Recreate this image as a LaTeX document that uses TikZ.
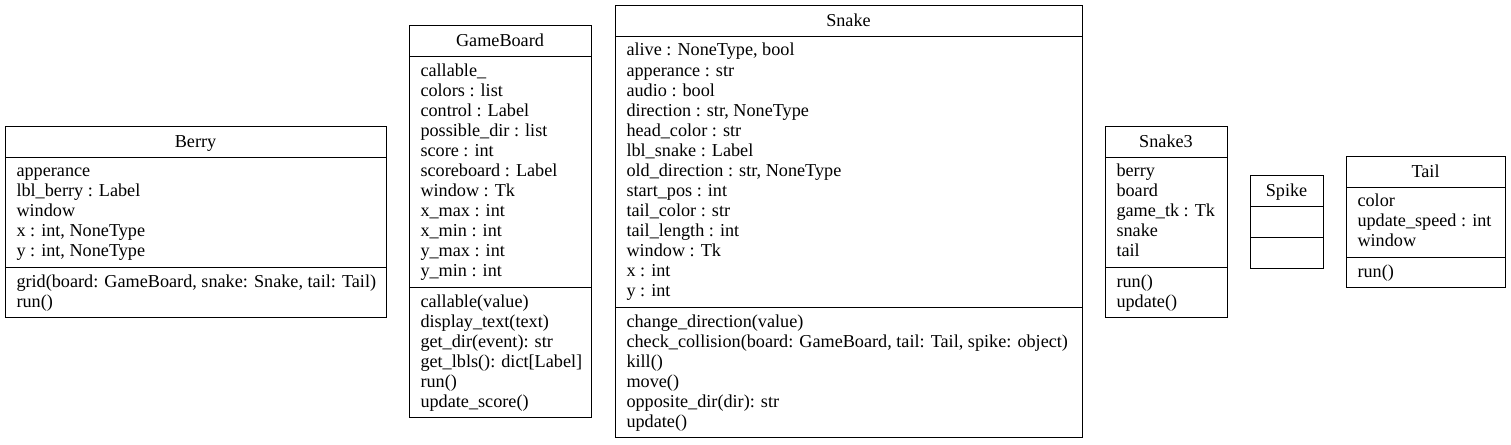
\documentclass[tikz,border=0pt]{standalone}
\usepackage{fontspec}
\setmainfont{Liberation Serif}
\newcommand{\umlfont}{\fontsize{18.2}{20}\selectfont}

\begin{document}
\begin{tikzpicture}[x=1pt,y=-1pt,line width=1pt,
		classname/.style={anchor=base,inner sep=0pt,font=\umlfont},
		member/.style={anchor=base west,inner sep=0pt,font=\umlfont}]
			\useasboundingbox (0,0) rectangle (1511,444);

			% Berry
			\draw (5,126) rectangle (386,317);
			\draw (5,157) -- (386,157);
			\draw (5,267) -- (386,267);
			\node[classname] (berry) at (195.5,147) {Berry};
			\node[member] (berry-a1) at (16,176) {apperance};
			\node[member] (berry-a2) at (16,196) {lbl\_berry : Label};
			\node[member] (berry-a3) at (16,216) {window};
			\node[member] (berry-a4) at (16,236) {x : int, NoneType};
			\node[member] (berry-a5) at (16,256) {y : int, NoneType};
			\node[member] (berry-m1) at (16,287) {grid(board: GameBoard, snake: Snake, tail: Tail)};
			\node[member] (berry-m2) at (16,307) {run()};

			% GameBoard
			\draw (409,26) rectangle (591,417);
			\draw (409,57) -- (591,57);
			\draw (409,287) -- (591,287);
			\node[classname] (board) at (500,47) {GameBoard};
			\node[member] (board-a1) at (420,76) {callable\_};
			\node[member] (board-a2) at (420,96) {colors : list};
			\node[member] (board-a3) at (420,116) {control : Label};
			\node[member] (board-a4) at (420,136) {possible\_dir : list};
			\node[member] (board-a5) at (420,156) {score : int};
			\node[member] (board-a6) at (420,176) {scoreboard : Label};
			\node[member] (board-a7) at (420,196) {window : Tk};
			\node[member] (board-a8) at (420,216) {x\_max : int};
			\node[member] (board-a9) at (420,236) {x\_min : int};
			\node[member] (board-a10) at (420,256) {y\_max : int};
			\node[member] (board-a11) at (420,276) {y\_min : int};
			\node[member] (board-m1) at (420,307) {callable(value)};
			\node[member] (board-m2) at (420,327) {display\_text(text)};
			\node[member] (board-m3) at (420,347) {get\_dir(event): str};
			\node[member] (board-m4) at (420,367) {get\_lbls(): dict[Label]};
			\node[member] (board-m5) at (420,387) {run()};
			\node[member] (board-m6) at (420,407) {update\_score()};

			% Snake
			\draw (615,6) rectangle (1082,437);
			\draw (615,37) -- (1082,37);
			\draw (615,307) -- (1082,307);
			\node[classname] (snake) at (848.5,27) {Snake};
			\node[member] (snake-a1) at (626,56) {alive : NoneType, bool};
			\node[member] (snake-a2) at (626,76) {apperance : str};
			\node[member] (snake-a3) at (626,96) {audio : bool};
			\node[member] (snake-a4) at (626,116) {direction : str, NoneType};
			\node[member] (snake-a5) at (626,136) {head\_color : str};
			\node[member] (snake-a6) at (626,156) {lbl\_snake : Label};
			\node[member] (snake-a7) at (626,176) {old\_direction : str, NoneType};
			\node[member] (snake-a8) at (626,196) {start\_pos : int};
			\node[member] (snake-a9) at (626,216) {tail\_color : str};
			\node[member] (snake-a10) at (626,236) {tail\_length : int};
			\node[member] (snake-a11) at (626,256) {window : Tk};
			\node[member] (snake-a12) at (626,276) {x : int};
			\node[member] (snake-a13) at (626,296) {y : int};
			\node[member] (snake-m1) at (626,327) {change\_direction(value)};
			\node[member] (snake-m2) at (626,347) {check\_collision(board: GameBoard, tail: Tail, spike: object)};
			\node[member] (snake-m3) at (626,367) {kill()};
			\node[member] (snake-m4) at (626,387) {move()};
			\node[member] (snake-m5) at (626,407) {opposite\_dir(dir): str};
			\node[member] (snake-m6) at (626,427) {update()};

			% Snake3
			\draw (1105,126) rectangle (1227,317);
			\draw (1105,157) -- (1227,157);
			\draw (1105,267) -- (1227,267);
			\node[classname] (snakethree) at (1166,147) {Snake3};
			\node[member] (snakethree-a1) at (1116,176) {berry};
			\node[member] (snakethree-a2) at (1116,196) {board};
			\node[member] (snakethree-a3) at (1116,216) {game\_tk : Tk};
			\node[member] (snakethree-a4) at (1116,236) {snake};
			\node[member] (snakethree-a5) at (1116,256) {tail};
			\node[member] (snakethree-m1) at (1116,287) {run()};
			\node[member] (snakethree-m2) at (1116,307) {update()};

			% Spike
			\draw (1250,175) rectangle (1323,268);
			\draw (1250,206) -- (1323,206);
			\draw (1250,237) -- (1323,237);
			\node[classname] (spike) at (1286.5,196) {Spike};

			% Tail
			\draw (1346,156) rectangle (1505,287);
			\draw (1346,187) -- (1505,187);
			\draw (1346,257) -- (1505,257);
			\node[classname] (tail) at (1425.5,177) {Tail};
			\node[member] (tail-a1) at (1357,206) {color};
			\node[member] (tail-a2) at (1357,226) {update\_speed : int};
			\node[member] (tail-a3) at (1357,246) {window};
			\node[member] (tail-m1) at (1357,277) {run()};

		\end{tikzpicture}
\end{document}
